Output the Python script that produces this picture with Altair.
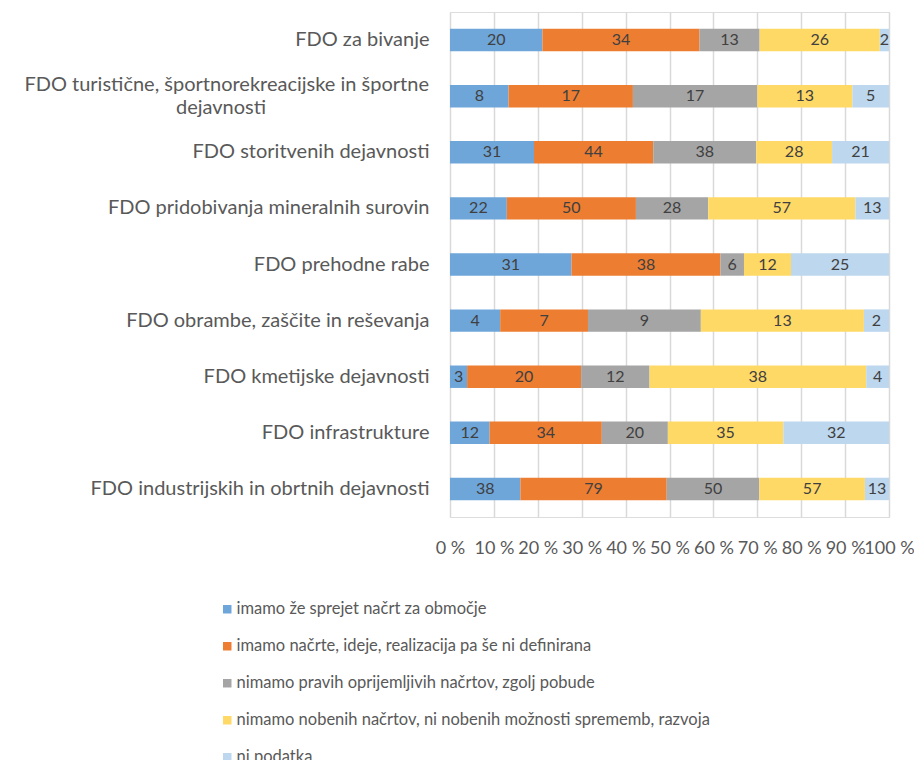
import altair as alt
import pandas as pd

categories = [
    "FDO za bivanje",
    "FDO turistične, športnorekreacijske in športne\ndejavnosti",
    "FDO storitvenih dejavnosti",
    "FDO pridobivanja mineralnih surovin",
    "FDO prehodne rabe",
    "FDO obrambe, zaščite in reševanja",
    "FDO kmetijske dejavnosti",
    "FDO infrastrukture",
    "FDO industrijskih in obrtnih dejavnosti",
]
series = [
    "imamo že  sprejet načrt za območje",
    "imamo načrte, ideje, realizacija pa še ni definirana",
    "nimamo pravih oprijemljivih načrtov, zgolj pobude",
    "nimamo nobenih načrtov, ni nobenih možnosti sprememb, razvoja",
    "ni podatka",
]
s_sprejet = [20, 8, 31, 22, 31, 4, 3, 12, 38]
s_ideje = [34, 17, 44, 50, 38, 7, 20, 34, 79]
s_pobude = [13, 17, 38, 28, 6, 9, 12, 20, 50]
s_nobenih = [26, 13, 28, 57, 12, 13, 38, 35, 57]
s_ni = [2, 5, 21, 13, 25, 2, 4, 32, 13]
colors = ["#6FA6DA", "#ED7D31", "#A5A5A5", "#FFD966", "#BDD7EE"]
x_ticks = [0, 0.1, 0.2, 0.3, 0.4, 0.5, 0.6, 0.7, 0.8, 0.9, 1.0]

rows = []
for si, (name, vals) in enumerate(zip(series, [s_sprejet, s_ideje, s_pobude, s_nobenih, s_ni])):
    for ci, cat in enumerate(categories):
        rows.append({"cat": cat, "series": name, "order": si, "value": vals[ci]})
df = pd.DataFrame(rows)

wrapped = [c for c in categories if "\n" in c]
wrap_df = pd.DataFrame({
    "cat": wrapped,
    "line1": [c.split("\n")[0] for c in wrapped],
    "line2": [c.split("\n")[1] for c in wrapped],
})

FONT = "Lato"
LABEL_COLOR = "#595959"

base = alt.Chart(df).transform_stack(
    stack="value", groupby=["cat"], as_=["x0", "x1"], offset="normalize",
    sort=[alt.SortField("order", order="ascending")]
).transform_calculate(mid="(datum.x0 + datum.x1) / 2")

y_scale = alt.Scale(domain=categories, paddingInner=0.6, paddingOuter=0.3)

y_enc = alt.Y(
    "cat:N", sort=categories, title=None, scale=y_scale,
    axis=alt.Axis(
        domain=False, ticks=False, labelFontSize=20, labelColor=LABEL_COLOR,
        labelFont=FONT, labelLimit=600, labelPadding=21,
        labelExpr="indexof(datum.label, '\\n') >= 0 ? '' : datum.label",
    ),
)

bars = base.mark_bar().encode(
    x=alt.X(
        "x0:Q", title=None,
        scale=alt.Scale(domain=[0, 1], nice=False, zero=True),
        axis=alt.Axis(
            values=x_ticks, domain=False, ticks=False, grid=True,
            gridColor="#D9D9D9", gridWidth=1.5,
            labelExpr="round(datum.value * 100) + ' %'",
            labelFontSize=18, labelColor=LABEL_COLOR, labelFont=FONT,
            labelPadding=22, labelOverlap=False, labelFlush=False,
        ),
    ),
    x2="x1:Q",
    y=y_enc,
    color=alt.Color(
        "series:N", sort=series, title=None,
        scale=alt.Scale(domain=series, range=colors),
        legend=alt.Legend(
            orient="none", legendX=-231, legendY=589, direction="vertical",
            symbolType="square", symbolSize=72, symbolStrokeWidth=0,
            symbolOpacity=1, labelFontSize=16.5, labelColor=LABEL_COLOR,
            labelFont=FONT, rowPadding=20, labelOffset=1, labelLimit=600,
        ),
    ),
    order=alt.Order("order:Q"),
)

texts = base.mark_text(fontSize=16, color="#404040", font=FONT).encode(
    x="mid:Q",
    y=alt.Y("cat:N", sort=categories, scale=y_scale),
    text="value:Q",
)

wrap_base = alt.Chart(wrap_df)
line1 = wrap_base.mark_text(
    align="right", baseline="middle", dy=-11.5, fontSize=20,
    color=LABEL_COLOR, font=FONT,
).encode(x=alt.value(-21), y=alt.Y("cat:N", sort=categories, scale=y_scale), text="line1:N")
line2 = wrap_base.mark_text(
    align="center", baseline="middle", dy=11.5, fontSize=20,
    color=LABEL_COLOR, font=FONT,
).encode(x=alt.value(-229), y=alt.Y("cat:N", sort=categories, scale=y_scale), text="line2:N")

chart = (bars + texts + line1 + line2).properties(
    width=439, height=505,
    autosize=alt.AutoSizeParams(type="none"),
    padding={"left": 442, "top": 4, "right": 25, "bottom": 243},
).configure_view(stroke=None).configure(background="white")

chart.save("out.html", embed_options={"renderer": "svg", "actions": False})
